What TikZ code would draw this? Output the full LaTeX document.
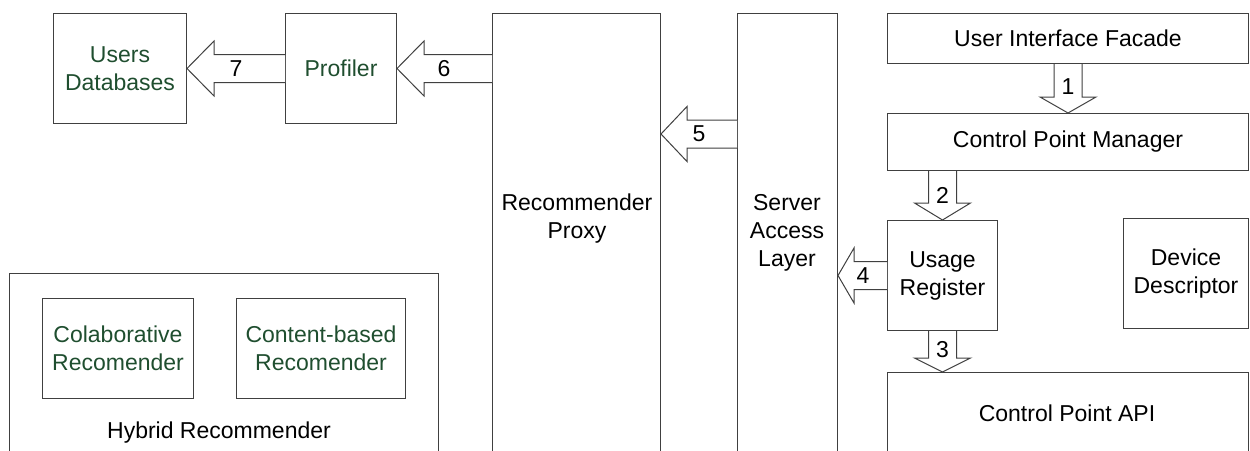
\documentclass[tikz,border=0pt]{standalone}
\usepackage{fontspec}
\setmainfont{Liberation Sans}
\usetikzlibrary{calc}
\definecolor{lineC}{RGB}{64,64,64}
\definecolor{greenT}{RGB}{31,78,47}
\newcommand{\blkleft}[4]{% #1 start x-anchor, #2 tip, #3 head length, #4 name
  \draw[blk] ($(#1|-#2)+(0,-14)$) -- ($(#2)+(#3,-14)$) -- ($(#2)+(#3,-27.5)$) -- (#2)
    -- ($(#2)+(#3,27.5)$) -- ($(#2)+(#3,14)$) -- ($(#1|-#2)+(0,14)$);}
\newcommand{\blkdown}[3]{% #1 start y-anchor, #2 tip, #3 head length
  \draw[blk] ($(#2|-#1)+(-14,0)$) -- ($(#2)+(-14,-#3)$) -- ($(#2)+(-28,-#3)$) -- (#2)
    -- ($(#2)+(28,-#3)$) -- ($(#2)+(14,-#3)$) -- ($(#2|-#1)+(14,0)$);}
\begin{document}
\begin{tikzpicture}[x=1pt,y=-1pt,
  box/.style={draw=lineC, line width=1pt, anchor=north west, inner sep=0pt,
    align=center, font=\fontsize{23}{28}\selectfont},
  gtxt/.style={text=greenT},
  txt/.style={align=center, inner sep=0pt, font=\fontsize{23}{28}\selectfont},
  num/.style={inner sep=0pt, font=\fontsize{23}{28}\selectfont},
  blk/.style={draw=lineC, line width=1pt, fill=white, line join=miter}]
\useasboundingbox (0,0) rectangle (1250,450);
\clip (0,0) rectangle (1250,450);
% boxes
\node[box, gtxt, minimum width=133pt, minimum height=110pt] (users) at (53,13) {Users\\Databases};
\node[box, gtxt, minimum width=111pt, minimum height=110pt] (prof) at (285,13) {Profiler};
\node[box, minimum width=168pt, minimum height=470pt] (proxy) at (492,13) {};
\node[box, minimum width=100pt, minimum height=470pt] (srv) at (737,13) {};
\node[box, minimum width=361pt, minimum height=50pt] (uif) at (887,13) {User Interface Facade};
\node[box, minimum width=361pt, minimum height=57pt] (cpm) at (887,113) {Control Point Manager};
\node[box, minimum width=110pt, minimum height=110pt] (ur) at (887,220) {Usage\\Register};
\node[box, minimum width=125pt, minimum height=110pt] (dd) at (1123,218) {Device\\Descriptor};
\node[box, minimum width=361pt, minimum height=100pt] (api) at (887,372) {};
\node[box, minimum width=429pt, minimum height=200pt] (hyb) at (9,273) {};
\node[box, gtxt, minimum width=151pt, minimum height=100pt] (colab) at (42,298) {Colaborative\\Recomender};
\node[box, gtxt, minimum width=169pt, minimum height=100pt] (cb) at (236,298) {Content-based\\Recomender};
% texts of open boxes
\node[txt] (proxyT) at (577,219) {Recommender\\Proxy};
\node[txt] (srvT) at (787,233) {Server\\Access\\Layer};
\node[txt] (apiT) at (1067,413) {Control Point API};
\node[txt] (hybT) at (219,433) {Hybrid Recommender};
% tips
\path (proxy.north east) ++(0,121) coordinate (t5);
\coordinate (t4) at (srv.east |- ur.west);
\coordinate (t2) at (ur.north);
\coordinate (t3) at (api.north -| ur.south);
% block arrows
\blkleft{prof.west}{users.east}{27}{a7}
\blkleft{proxy.west}{prof.east}{27}{a6}
\blkleft{srv.west}{t5}{26}{a5}
\blkleft{ur.west}{t4}{16}{a4}
\blkdown{uif.south}{cpm.north}{16}
\blkdown{cpm.south}{t2}{17}
\blkdown{ur.south}{t3}{14}
% labels
\node[num] (l7) at ($(users.east)+(49,0)$) {7};
\node[num] (l6) at ($(prof.east)+(47,0)$) {6};
\node[num] (l5) at ($(t5)+(38,0)$) {5};
\node[num] (l4) at ($(t4)+(25,0)$) {4};
\node[num] (l1) at ($(cpm.north)+(0,-26)$) {1};
\node[num] (l2) at ($(t2)+(0,-25)$) {2};
\node[num] (l3) at ($(t3)+(0,-22)$) {3};
\end{tikzpicture}
\end{document}
